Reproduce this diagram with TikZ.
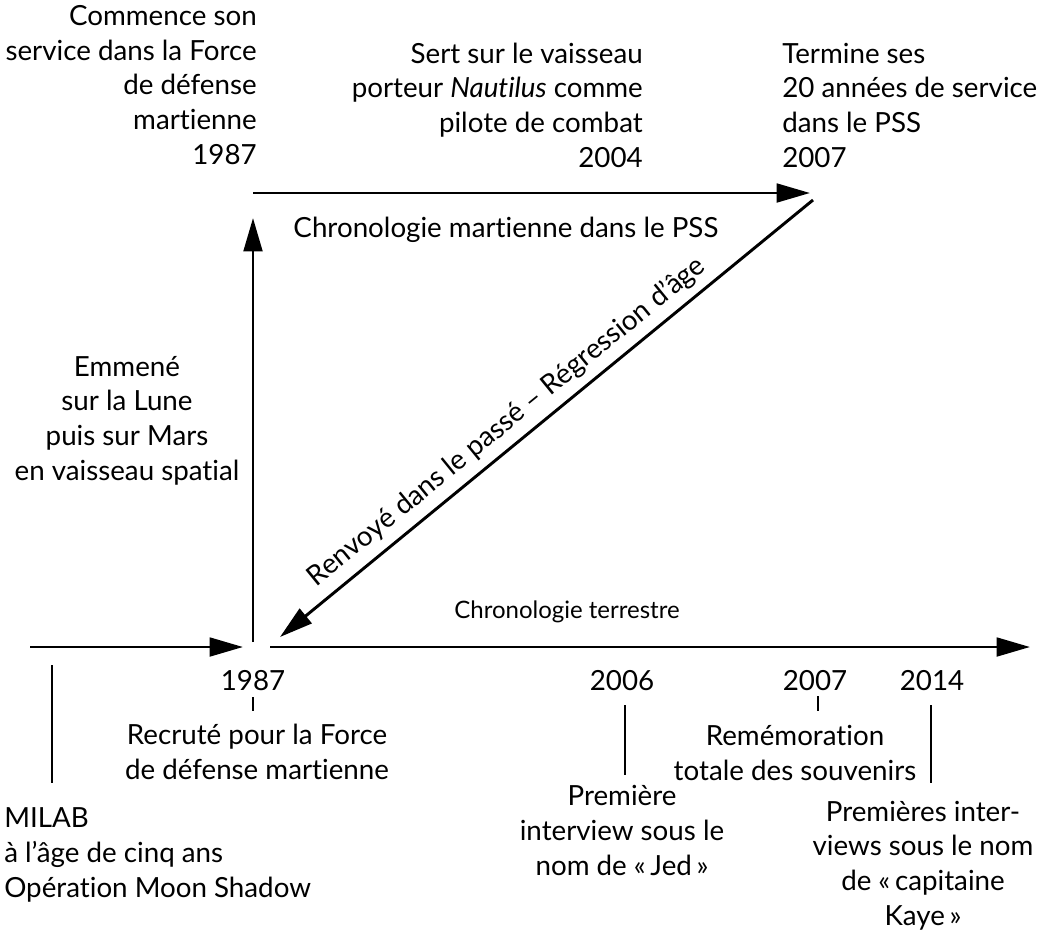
\documentclass[tikz,border=0pt]{standalone}
\usepackage{fontspec}
\setmainfont{Lato}[Ligatures=NoCommon]
\usetikzlibrary{arrows.meta}
\begin{document}
\begin{tikzpicture}[x=0.75pt,y=-0.75pt,
  txt/.style={font=\fontsize{20.8}{25.9}\selectfont, inner sep=0pt},
  smalltxt/.style={font=\fontsize{18}{22}\selectfont, inner sep=0pt},
  ln/.style={line width=2.2pt},
  arr/.style={ln, -{Triangle[length=25pt,width=14pt]}}]
\useasboundingbox (0,0) rectangle (1053,933);
% coordinates
\coordinate (leftstart) at (30,647);
\coordinate (leftend) at (243,647);
\coordinate (rightstart) at (270,647);
\coordinate (rightend) at (1030,647);
\coordinate (vbot) at (253,642);
\coordinate (vtop) at (253,218);
\coordinate (hstart) at (253,193);
\coordinate (hend) at (810,193);
\coordinate (dstart) at (813,200);
\coordinate (dend) at (280,637);
% arrows
\draw[arr] (leftstart) -- (leftend);
\draw[arr] (rightstart) -- (rightend);
\draw[arr] (vbot) -- (vtop);
\draw[arr] (hstart) -- (hend);
\draw[arr] (dstart) -- (dend);
% top texts
\node[txt, align=right, anchor=base east] (commence) at (257,164)
  {Commence son\\service dans la Force\\de défense\\martienne\\1987};
\node[txt, align=right, anchor=base east] (sert) at (643,167)
  {Sert sur le vaisseau\\porteur \textit{Nautilus} comme\\pilote de combat\\2004};
\node[txt, align=left, anchor=base west] (termine) at (782,167)
  {Termine ses\\20 années de service\\dans le PSS\\2007};
\node[txt, anchor=base] (martienne) at (506,237) {Chronologie martienne dans le PSS};
\node[txt, align=center, anchor=base] (emmene) at (127,480)
  {Emmené\\sur la Lune\\puis sur Mars\\en vaisseau spatial};
\node[txt, anchor=base, rotate=39.2] (renvoye) at (512,428)
  {Renvoyé dans le passé – Régression d’âge};
\node[smalltxt, anchor=base] (terrestre) at (567,618) {Chronologie terrestre};
% bottom texts
\node[txt, anchor=base] (y1987) at (253,690) {1987};
\node[txt, align=center, anchor=base] (recrute) at (257,779)
  {Recruté pour la Force\\de défense martienne};
\node[txt, align=left, anchor=base west] (milab) at (4,897)
  {MILAB\\à l’âge de cinq ans\\Opération Moon Shadow};
\node[txt, anchor=base] (y2006) at (622,690) {2006};
\node[txt, align=center, anchor=base] (premiere) at (622,875)
  {Première\\interview sous le\\nom de «\,Jed\,»};
\node[txt, anchor=base] (y2007) at (815,690) {2007};
\node[txt, align=center, anchor=base] (rememoration) at (795,780)
  {Remémoration\\totale des souvenirs};
\node[txt, anchor=base] (y2014) at (932,690) {2014};
\node[txt, align=center, anchor=base] (premieres) at (923,925)
  {Premières inter-\\views sous le nom\\de «\,capitaine\\Kaye\,»};
% ticks
\coordinate (t1a) at (52,665); \coordinate (t1b) at (52,783);
\coordinate (t2a) at (253,697); \coordinate (t2b) at (253,711);
\coordinate (t3a) at (625,705); \coordinate (t3b) at (625,775);
\coordinate (t4a) at (818,696); \coordinate (t4b) at (818,711);
\coordinate (t5a) at (931,705); \coordinate (t5b) at (931,783);
\draw[ln] (t1a) -- (t1b);
\draw[ln] (t2a) -- (t2b);
\draw[ln] (t3a) -- (t3b);
\draw[ln] (t4a) -- (t4b);
\draw[ln] (t5a) -- (t5b);
\end{tikzpicture}
\end{document}
